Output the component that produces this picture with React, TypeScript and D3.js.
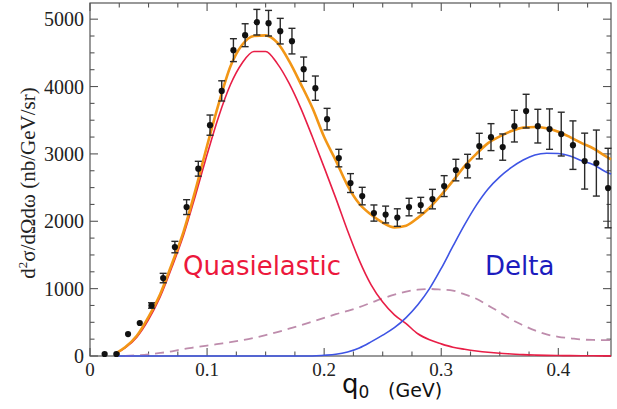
import React from "react";
import * as d3 from "d3";

// ---- data ----
const dataQ = [0.0125, 0.0225, 0.0325, 0.0425, 0.0525, 0.0625, 0.0725, 0.0825, 0.0925, 0.1025, 0.1125, 0.1225, 0.1325, 0.1425, 0.1525, 0.1625, 0.1725, 0.1825, 0.1925, 0.2025, 0.2125, 0.2225, 0.2325, 0.2425, 0.2525, 0.2625, 0.2725, 0.2825, 0.2925, 0.3025, 0.3125, 0.3225, 0.3325, 0.3425, 0.3525, 0.3625, 0.3725, 0.3825, 0.3925, 0.4025, 0.4125, 0.4225, 0.4325, 0.4425];
const dataY = [30, 30, 326, 490, 750, 1157, 1617, 2210, 2780, 3427, 3935, 4540, 4762, 4955, 4940, 4822, 4674, 4258, 3976, 3516, 2938, 2567, 2374, 2122, 2100, 2055, 2211, 2240, 2329, 2522, 2760, 2819, 3116, 3249, 3101, 3412, 3635, 3412, 3368, 3294, 3130, 2893, 2864, 2493];
const dataErr = [0, 0, 0, 0, 40, 70, 85, 110, 110, 150, 150, 170, 170, 190, 190, 190, 190, 180, 180, 160, 130, 140, 130, 120, 125, 130, 130, 115, 145, 155, 160, 175, 190, 200, 195, 235, 250, 250, 300, 325, 360, 415, 490, 590];

const qGrid = [0.022, 0.03, 0.04, 0.05, 0.06, 0.07, 0.08, 0.09, 0.10, 0.11, 0.12, 0.13, 0.14, 0.15, 0.16, 0.17, 0.18, 0.19, 0.20, 0.21, 0.22, 0.23, 0.24, 0.25, 0.26, 0.27, 0.28, 0.29, 0.30, 0.31, 0.32, 0.33, 0.34, 0.35, 0.36, 0.37, 0.38, 0.39, 0.40, 0.41, 0.42, 0.43, 0.44, 0.445];
const totalCurve = [40, 130, 300, 580, 920, 1370, 1850, 2460, 3120, 3750, 4300, 4620, 4750, 4760, 4650, 4380, 4040, 3680, 3250, 2900, 2530, 2260, 2100, 1980, 1910, 1935, 2050, 2200, 2390, 2600, 2820, 3000, 3160, 3260, 3340, 3390, 3400, 3380, 3330, 3250, 3160, 3080, 2970, 2920];
const qeCurve = [38, 120, 280, 540, 880, 1320, 1800, 2380, 2990, 3560, 4030, 4350, 4520, 4520, 4340, 4050, 3680, 3250, 2800, 2340, 1860, 1420, 1060, 800, 610, 480, 330, 240, 180, 130, 100, 75, 55, 40, 30, 20, 14, 10, 7, 5, 4, 3, 2, 2];
const deltaCurve = [0, 0, 0, 0, 0, 0, 0, 0, 0, 0, 0, 0, 0, 0, 0, 0, 0, 0, 10, 25, 60, 120, 210, 310, 420, 570, 760, 1000, 1300, 1630, 1950, 2240, 2480, 2660, 2800, 2910, 2985, 3010, 3005, 2970, 2900, 2840, 2740, 2700];
const otherCurve: (number | null)[] = [null, 0, 10, 25, 45, 70, 105, 130, 155, 180, 205, 235, 270, 310, 355, 405, 455, 510, 565, 620, 670, 725, 790, 855, 910, 955, 985, 995, 985, 970, 915, 850, 750, 650, 540, 455, 380, 320, 285, 265, 245, 238, 236, 236];

const xMajor = [0, 0.1, 0.2, 0.3, 0.4];
const xMajorLabels = ["0", "0.1", "0.2", "0.3", "0.4"];
const yMajor = [0, 1000, 2000, 3000, 4000, 5000];
const yMajorLabels = ["0", "1000", "2000", "3000", "4000", "5000"];

export default function App() {
  const left = 90, right = 611, top = 3, bottom = 356;
  const x = d3.scaleLinear().domain([0, 0.445]).range([left, right]);
  const y = d3.scaleLinear().domain([0, 5240]).range([bottom, top]);

  const mk = (vals: (number | null)[]) =>
    d3
      .line<number>()
      .defined((_, i) => vals[i] !== null)
      .x((q) => x(q))
      .y((_, i) => y(vals[i] as number))
      .curve(d3.curveMonotoneX)(qGrid) || "";

  const xMinor = d3.range(0, 0.4451, 0.025);
  const yMinor = d3.range(0, 5240, 250);

  const serif = "'Liberation Serif', 'Times New Roman', serif";
  const sans = "'DejaVu Sans', Verdana, sans-serif";
  const frame = "#555";

  return (
    <svg width={617} height={409} style={{ position: "absolute", left: 0, top: 0, background: "#fff" }}>
      <rect x={0} y={0} width={617} height={409} fill="#fff" />
      {/* frame */}
      <rect x={left} y={top} width={right - left} height={bottom - top} fill="none" stroke={frame} strokeWidth={1.2} />
      {/* x ticks */}
      {xMinor.map((v, i) => {
        const isMajor = Math.abs(v * 10 - Math.round(v * 10)) < 1e-6;
        const len = isMajor ? 8 : 4.5;
        return (
          <g key={"xt" + i} stroke={frame} strokeWidth={1.1}>
            <line x1={x(v)} x2={x(v)} y1={bottom} y2={bottom - len} />
            <line x1={x(v)} x2={x(v)} y1={top} y2={top + len} />
          </g>
        );
      })}
      {/* y ticks */}
      {yMinor.map((v, i) => {
        const isMajor = v % 1000 === 0;
        const len = isMajor ? 8 : 4.5;
        return (
          <g key={"yt" + i} stroke={frame} strokeWidth={1.1}>
            <line x1={left} x2={left + len} y1={y(v)} y2={y(v)} />
            <line x1={right} x2={right - len} y1={y(v)} y2={y(v)} />
          </g>
        );
      })}
      {/* tick labels */}
      {xMajor.map((v, i) => (
        <text key={"xl" + i} x={x(v)} y={376} textAnchor="middle" fontFamily={serif} fontSize={19} fill="#222">
          {xMajorLabels[i]}
        </text>
      ))}
      {yMajor.map((v, i) => (
        <text key={"yl" + i} x={84} y={y(v) + 7} textAnchor="end" fontFamily={serif} fontSize={20} fill="#222">
          {yMajorLabels[i]}
        </text>
      ))}
      {/* axis titles */}
      <text transform="translate(35,183) rotate(-90)" textAnchor="middle" fontFamily={serif} fontSize={21} fill="#222">
        d<tspan dy={-8} fontSize={13}>2</tspan>
        <tspan dy={8}>σ/dΩdω (nb/GeV/sr)</tspan>
      </text>
      <text x={342} y={393} fontFamily={sans} fontSize={26} fill="#111">
        q<tspan dy={5} fontSize={17}>0</tspan>
      </text>
      <text x={388} y={397} fontFamily={sans} fontSize={19} fill="#111">
        (GeV)
      </text>

      {/* curves */}
      <path d={mk(otherCurve)} fill="none" stroke="rgb(190,140,172)" strokeWidth={1.8} strokeDasharray="9,6" />
      <path d={mk(qeCurve)} fill="none" stroke="rgb(232,30,70)" strokeWidth={1.6} />
      <path d={mk(deltaCurve)} fill="none" stroke="rgb(62,84,228)" strokeWidth={1.6} />
      <path d={mk(totalCurve)} fill="none" stroke="rgb(242,150,22)" strokeWidth={2.6} />

      {/* data */}
      {dataQ.map((q, i) => {
        const e = dataErr[i];
        const cx = x(q);
        return (
          <g key={"d" + i}>
            {e > 0 && (
              <g stroke="#2a2a2a" strokeWidth={1.4}>
                <line x1={cx} x2={cx} y1={y(dataY[i] - e)} y2={y(dataY[i] + e)} />
                <line x1={cx - 3.5} x2={cx + 3.5} y1={y(dataY[i] - e)} y2={y(dataY[i] - e)} />
                <line x1={cx - 3.5} x2={cx + 3.5} y1={y(dataY[i] + e)} y2={y(dataY[i] + e)} />
              </g>
            )}
            <circle cx={cx} cy={y(dataY[i])} r={3.1} fill="#111" />
          </g>
        );
      })}

      {/* labels */}
      <text x={183} y={275} fontFamily={sans} fontSize={26} fill="rgb(236,24,60)">
        Quasielastic
      </text>
      <text x={485} y={275} fontFamily={sans} fontSize={26} fill="rgb(28,28,190)">
        Delta
      </text>
    </svg>
  );
}
